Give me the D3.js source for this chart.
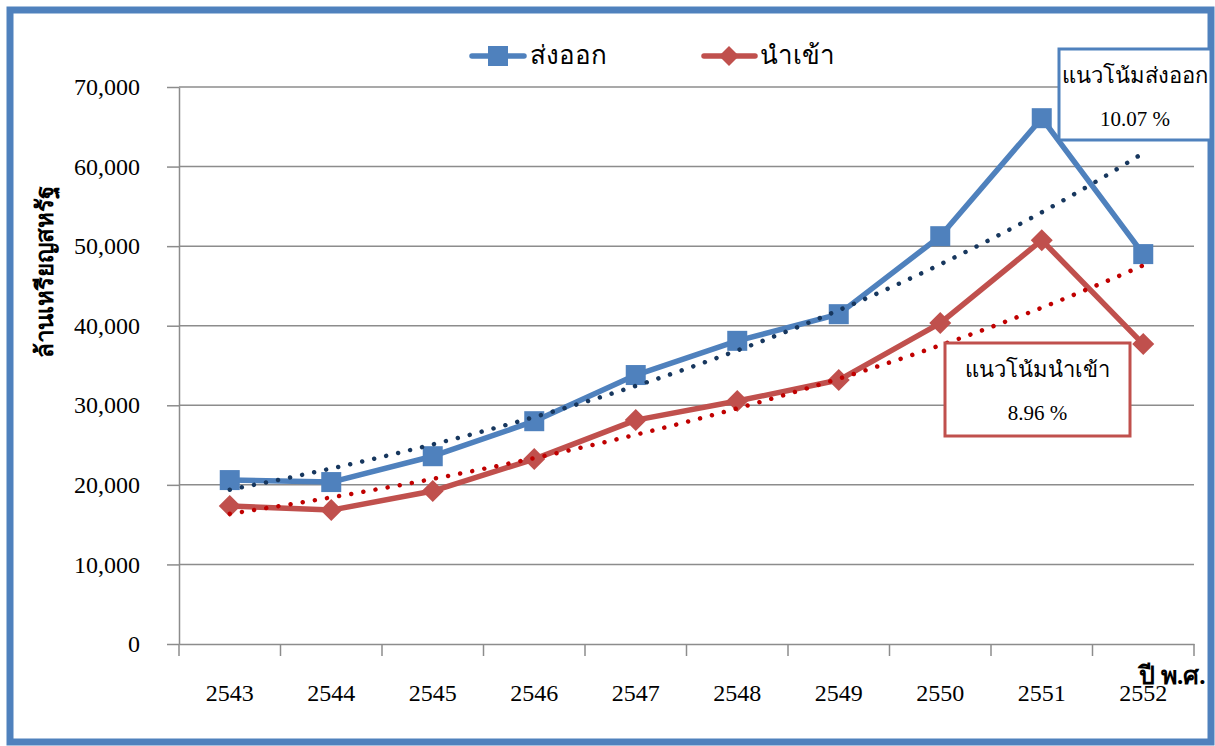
<!DOCTYPE html>
<html><head><meta charset="utf-8">
<script src="https://cdn.jsdelivr.net/npm/d3@7"></script>
<style>
body{margin:0;background:#fff;}
svg text{font-family:"Liberation Serif","Times New Roman",serif;fill:#000;}
</style></head>
<body><svg id="c" width="1215" height="746"></svg>
<script>
const years = ["2543","2544","2545","2546","2547","2548","2549","2550","2551","2552"];
const exportsVal = [20600,20350,23600,28000,33800,38100,41450,51250,66080,49000];
const importsVal = [17340,16830,19220,23240,28140,30530,33170,40330,50750,37690];
const yTicks = [0,10000,20000,30000,40000,50000,60000,70000];
const seriesNames = ["ส่งออก","นำเข้า"];
const trendLabels = ["แนวโน้มส่งออก","แนวโน้มนำเข้า"];
const trendRates = ["10.07 %","8.96 %"];
const yTitle = "ล้านเหรียญสหรัฐ";
const xTitle = "ปี พ.ศ.";

const svg = d3.select("#c");
const L=179,R=1194,T=87,B=644;
const x = d3.scaleBand().domain(years).range([L,R]);
const cx = d => x(d)+x.bandwidth()/2;
const y = d3.scaleLinear().domain([0,70000]).range([B,T]);

// frame
svg.append("rect").attr("x",10).attr("y",10).attr("width",1201).attr("height",732)
  .attr("fill","#fff").attr("stroke","#4F81BD").attr("stroke-width",7);

// gridlines
svg.append("g").selectAll("line").data(yTicks.filter(v=>v>0)).join("line")
  .attr("x1",L).attr("x2",R).attr("y1",d=>y(d)).attr("y2",d=>y(d))
  .attr("stroke","#8C8C8C").attr("stroke-width",1.5);

// y axis
const ya = svg.append("g").attr("transform",`translate(${L},0)`)
  .call(d3.axisLeft(y).tickValues(yTicks).tickSize(12).tickSizeOuter(0).tickPadding(27)
    .tickFormat(d3.format(",")));
ya.selectAll("path,line").attr("stroke","#8C8C8C").attr("stroke-width",1.5);
ya.selectAll("text").attr("font-size",24).attr("font-family","Liberation Serif, serif");

// x axis
const xa = svg.append("g").attr("transform",`translate(0,${B})`)
  .call(d3.axisBottom(x).tickSize(0).tickPadding(40).tickSizeOuter(0));
xa.select("path").attr("stroke","#8C8C8C").attr("stroke-width",1.5);
xa.selectAll("text").attr("font-size",24).attr("font-family","Liberation Serif, serif");
const bounds = years.map(d=>x(d)).concat([x(years[years.length-1])+x.bandwidth()]);
xa.selectAll("line.b").data(bounds).join("line").attr("class","b")
  .attr("x1",d=>d).attr("x2",d=>d).attr("y1",0).attr("y2",12)
  .attr("stroke","#8C8C8C").attr("stroke-width",1.5);

// titles
svg.append("text").attr("transform","translate(45,272) rotate(-90)")
  .attr("text-anchor","middle").attr("dy","0.35em").attr("font-size",24)
  .attr("font-weight","bold").text(yTitle);
svg.append("text").attr("x",1172).attr("y",684).attr("text-anchor","middle")
  .attr("font-size",25).attr("font-weight","bold").text(xTitle);

// lines
const line = d3.line().x(d=>cx(d.k)).y(d=>y(d.v));
const ex = years.map((k,i)=>({k,v:exportsVal[i]}));
const im = years.map((k,i)=>({k,v:importsVal[i]}));
svg.append("path").datum(ex).attr("d",line).attr("fill","none").attr("stroke","#4F81BD").attr("stroke-width",5.5).attr("stroke-linejoin","round");
svg.append("path").datum(im).attr("d",line).attr("fill","none").attr("stroke","#C0504D").attr("stroke-width",5.5).attr("stroke-linejoin","round");

// markers
svg.append("g").selectAll("rect").data(ex).join("rect")
  .attr("x",d=>cx(d.k)-10).attr("y",d=>y(d.v)-10).attr("width",20).attr("height",20).attr("fill","#4F81BD");
svg.append("g").selectAll("path").data(im).join("path")
  .attr("transform",d=>`translate(${cx(d.k)},${y(d.v)})`)
  .attr("d","M0,-11L11,0L0,11L-11,0Z").attr("fill","#C0504D");

// exponential trendlines (least squares on ln y)
function expFit(vals){
  const n=vals.length, xs=vals.map((_,i)=>i+1), ls=vals.map(v=>Math.log(v));
  const mx=d3.mean(xs), ml=d3.mean(ls);
  let sxy=0,sxx=0; xs.forEach((xv,i)=>{sxy+=(xv-mx)*(ls[i]-ml);sxx+=(xv-mx)*(xv-mx);});
  const b=sxy/sxx, a=ml-b*mx;
  const xsc=d3.scaleLinear().domain([1,n]).range([cx(years[0]),cx(years[n-1])]);
  const pts=d3.range(1,n+0.001,0.1).map(t=>[xsc(t),y(Math.exp(a+b*t))]);
  return pts;
}
const tl=d3.line();
svg.append("path").attr("d",tl(expFit(exportsVal))).attr("fill","none").attr("stroke","#17375E")
  .attr("stroke-width",4.5).attr("stroke-linecap","round").attr("stroke-dasharray","0.01 12.3");
svg.append("path").attr("d",tl(expFit(importsVal))).attr("fill","none").attr("stroke","#C00000")
  .attr("stroke-width",4.5).attr("stroke-linecap","round").attr("stroke-dasharray","0.01 12.3");

// legend
const lg = svg.append("g");
lg.append("line").attr("x1",472).attr("x2",524).attr("y1",56).attr("y2",56).attr("stroke","#4F81BD").attr("stroke-width",5.5).attr("stroke-linecap","round");
lg.append("rect").attr("x",488).attr("y",46).attr("width",20).attr("height",20).attr("fill","#4F81BD");
lg.append("text").attr("x",530).attr("y",64).attr("font-size",26).attr("font-family","DejaVu Sans, sans-serif").text(seriesNames[0]);
lg.append("line").attr("x1",704).attr("x2",755).attr("y1",56).attr("y2",56).attr("stroke","#C0504D").attr("stroke-width",5.5).attr("stroke-linecap","round");
lg.append("path").attr("transform","translate(729,56)").attr("d","M0,-10L10,0L0,10L-10,0Z").attr("fill","#C0504D");
lg.append("text").attr("x",760).attr("y",64).attr("font-size",26).attr("font-family","DejaVu Sans, sans-serif").text(seriesNames[1]);

// annotation boxes
function box(x0,y0,w,h,col,t1,t2){
  svg.append("rect").attr("x",x0).attr("y",y0).attr("width",w).attr("height",h)
    .attr("fill","#fff").attr("stroke",col).attr("stroke-width",3);
  svg.append("text").attr("x",x0+w/2).attr("y",y0+34).attr("text-anchor","middle").attr("font-size",22).text(t1);
  svg.append("text").attr("x",x0+w/2).attr("y",y0+77).attr("text-anchor","middle").attr("font-size",21).text(t2);
}
box(1059,49,152,91,"#4F81BD",trendLabels[0],trendRates[0]);
box(945,343,185,93,"#C0504D",trendLabels[1],trendRates[1]);
</script></body></html>
